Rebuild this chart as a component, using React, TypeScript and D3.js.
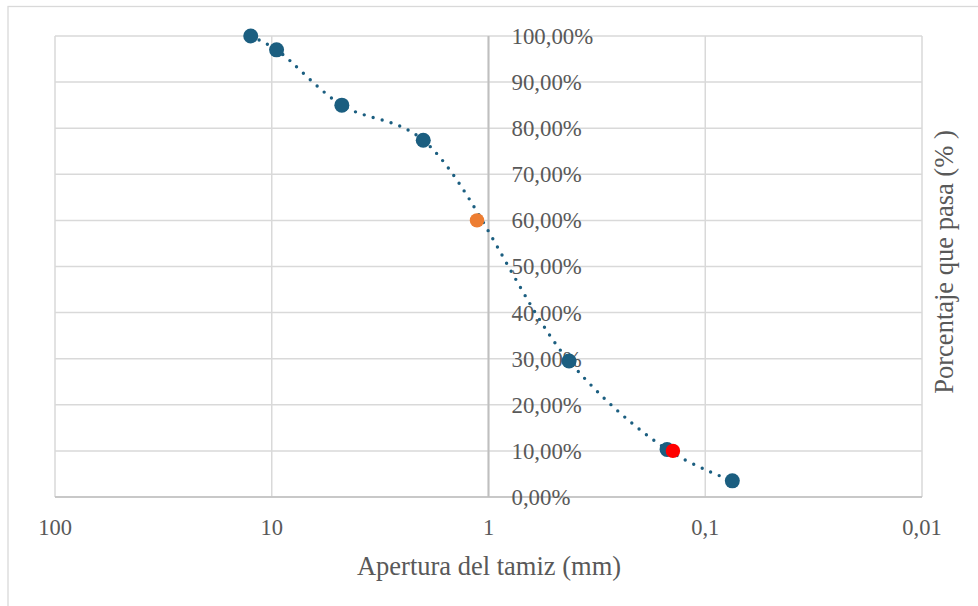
import React from 'react';
import * as d3 from 'd3';

// sieve data (mm, % passing)
const apertures = [12.5, 9.5, 4.75, 2.0, 0.425, 0.15, 0.075];
const passing = [100, 97, 85, 77.4, 29.5, 10.3, 3.5];

const d60 = { x: 1.13, y: 60 };
const d10 = { x: 0.141, y: 10 };

const xTicks = [100, 10, 1, 0.1, 0.01];
const xTickLabels = ['100', '10', '1', '0,1', '0,01'];
const yTicks = [0, 10, 20, 30, 40, 50, 60, 70, 80, 90, 100];

const W = 978;
const H = 606;
const margin = { top: 36, right: 56, bottom: 109, left: 55 };

const blue = '#1b5e80';
const grid = '#d9d9d9';
const textColor = '#595959';
const font = 'Liberation Serif, DejaVu Serif, serif';

const fmtPct = (v: number) => v.toFixed(2).replace('.', ',') + '%';

export default function App() {
  const x = d3.scaleLog().domain([100, 0.01]).range([margin.left, W - margin.right]);
  const y = d3.scaleLinear().domain([0, 100]).range([H - margin.bottom, margin.top]);

  const pts: [number, number][] = apertures.map((a, i) => [x(a), y(passing[i])]);
  const line = d3.line().curve(d3.curveCatmullRom.alpha(0.5));
  const path = line(pts) || '';

  const x0 = x(1);
  const txt = { fontFamily: font, fill: textColor } as React.CSSProperties;

  return (
    <svg width={W} height={H} style={{ position: 'absolute', left: 0, top: 0, background: '#fff' }}>
      {/* outer chart frame */}
      <rect x={8} y={6.5} width={W + 20} height={H + 20} fill="#fff" stroke={grid} strokeWidth={1.3} />

      {/* horizontal gridlines */}
      {yTicks.map((t) => (
        <line key={'h' + t} x1={x(100)} x2={x(0.01)} y1={y(t)} y2={y(t)} stroke={grid} strokeWidth={1.5} />
      ))}
      {/* vertical gridlines */}
      {xTicks.map((t) => (
        <line key={'v' + t} x1={x(t)} x2={x(t)} y1={y(100)} y2={y(0)} stroke={grid} strokeWidth={1.5} />
      ))}
      {/* axes */}
      <line x1={x(100)} x2={x(0.01)} y1={y(0)} y2={y(0)} stroke="#bfbfbf" strokeWidth={1.5} />
      <line x1={x0} x2={x0} y1={y(100)} y2={y(0)} stroke="#bfbfbf" strokeWidth={2} />

      {/* y tick labels */}
      {yTicks.map((t) => (
        <text key={'yl' + t} x={x0 + 23} y={y(t)} dy="0.35em" fontSize={22.8} style={txt}>
          {fmtPct(t)}
        </text>
      ))}
      {/* x tick labels */}
      {xTicks.map((t, i) => (
        <text key={'xl' + t} x={x(t)} y={y(0) + 30} dy="0.35em" textAnchor="middle" fontSize={22.5} style={txt}>
          {xTickLabels[i]}
        </text>
      ))}

      {/* axis titles */}
      <text x={489} y={566} dy="0.35em" textAnchor="middle" fontSize={26.5} style={txt}>
        Apertura del tamiz (mm)
      </text>
      <text transform="translate(944,262) rotate(-90)" dy="0.35em" textAnchor="middle" fontSize={26.5} style={txt}>
        Porcentaje que pasa (% )
      </text>

      {/* smoothed dotted curve */}
      <path d={path} fill="none" stroke={blue} strokeWidth={3.4} strokeDasharray="0 9.3" strokeLinecap="round" />

      {/* markers */}
      {pts.map((p, i) => (
        <circle key={'p' + i} cx={p[0]} cy={p[1]} r={7.5} fill={blue} />
      ))}
      <circle cx={x(d60.x)} cy={y(d60.y)} r={7.2} fill="#ed7d31" />
      <circle cx={x(d10.x)} cy={y(d10.y)} r={7.2} fill="#ff0000" />
    </svg>
  );
}
